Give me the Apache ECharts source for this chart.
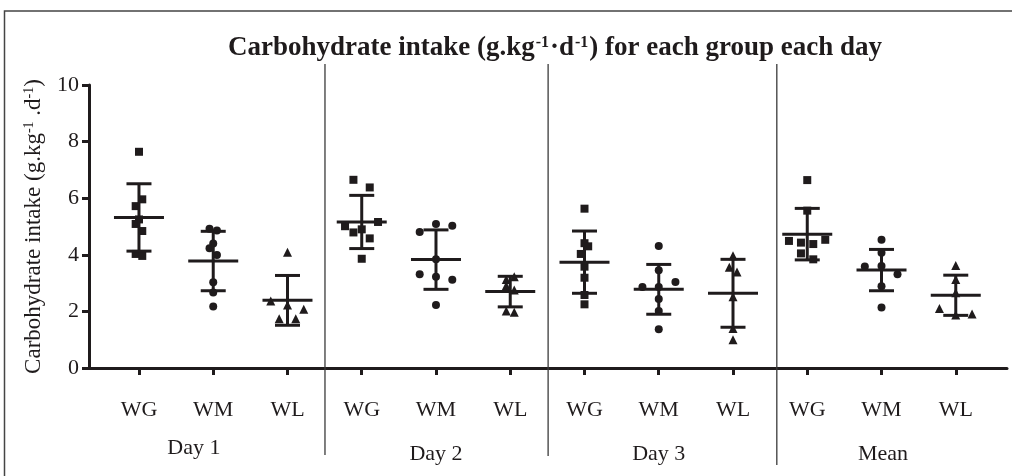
<!DOCTYPE html>
<html><head><meta charset="utf-8">
<script src="https://cdn.jsdelivr.net/npm/echarts@6/dist/echarts.min.js"></script>
<style>html,body{margin:0;padding:0;background:#fff}#c{width:1012px;height:476px}</style>
</head><body><div id="c"></div>
<script>
// ---------- data ----------
const groups = ['WG', 'WM', 'WL'];
const days = ['Day 1', 'Day 2', 'Day 3', 'Mean'];
const yTicks = [0, 2, 4, 6, 8, 10];

// individual values per category (Day1 WG, WM, WL, Day2 WG, ... Mean WL)
const d1WG = [7.64, 5.96, 5.72, 5.25, 5.09, 4.84, 4.03, 3.96];
const d1WM = [4.92, 4.86, 4.40, 4.23, 3.99, 3.03, 2.67, 2.17];
const d1WL = [4.09, 2.37, 2.23, 2.08, 1.74, 1.74];
const d2WG = [6.65, 6.38, 5.16, 5.01, 4.90, 4.79, 4.58, 3.86];
const d2WM = [5.09, 5.03, 4.81, 3.84, 3.31, 3.22, 3.12, 2.23];
const d2WL = [3.22, 3.13, 2.91, 2.76, 2.01, 1.97];
const d3WG = [5.63, 4.41, 4.30, 4.03, 3.58, 3.19, 2.58, 2.25];
const d3WM = [4.31, 3.45, 3.04, 2.86, 2.86, 2.44, 2.01, 1.37];
const d3WL = [3.97, 3.56, 3.39, 2.52, 1.40, 1.00];
const mWG = [6.64, 5.56, 4.53, 4.49, 4.43, 4.38, 4.05, 3.84];
const mWM = [4.53, 4.07, 3.59, 3.60, 3.31, 2.89, 2.14];
const mWL = [3.62, 3.13, 2.66, 2.10, 1.91, 1.87];
const values = [d1WG, d1WM, d1WL, d2WG, d2WM, d2WL, d3WG, d3WM, d3WL, mWG, mWM, mWL];

// mean and SD shown by the error bars
const means = [5.32, 3.78, 2.39, 5.16, 3.83, 2.70, 3.74, 2.78, 2.64, 4.73, 3.46, 2.57];
const sds   = [1.19, 1.05, 0.88, 0.94, 1.05, 0.54, 1.10, 0.88, 1.20, 0.91, 0.73, 0.71];

// ---------- layout / style (not data) ----------
const jitterPx = [
  [0, 3.3, -3.3, 0, -3.3, 3.3, -3.3, 3.3],
  [-3.7, 3.7, 0, -3.7, 3.7, 0, 0, 0],
  [0, -16.7, 0, 16.3, -8.3, 8.3],
  [-8.3, 8, 16.3, -16.7, 0, -8.3, 8, 0],
  [0, 16.3, -16.3, 0, -16.3, 0, 16.3, 0],
  [4, -4, -4, 4, -4, 4],
  [0, 0, 3.7, -3.7, 0, 0, 0, 0],
  [0, 0, 16.7, -16.3, 0, 0, 0, 0],
  [0, -3.7, 4, 0, 0, 0],
  [0, 0, 18, -18.3, -6.3, 6, -6.3, 6],
  [0, 0, -16.7, 0, 16, 0, 0],
  [0, 0, 0, -16.3, 16.3, 0]
];
const dayLabelX = [0.74, 4.0, 7.0, 10.02];
const dayLabelDy = [80, 86, 86, 86];
const dividerX = [2.505, 5.51, 8.59];
const dividerBottom = [87, 88, 97];
const symbols = ['rect', 'circle', 'triangle'];
const symbolSizes = [8, 8, 9];
const INK = '#1f1b1c';
const SERIF = '"Liberation Serif", "Times New Roman", serif';

const catIdx = values.map((_, i) => i);

const scatterSeries = groups.map((g, gi) => ({
  type: 'scatter',
  name: g,
  symbol: symbols[gi],
  symbolSize: symbolSizes[gi],
  itemStyle: { color: INK, opacity: 1 },
  z: 3,
  data: values.flatMap((arr, ci) => ci % 3 !== gi ? [] :
    arr.map((v, k) => ({ value: [ci, v], symbolOffset: [jitterPx[ci][k], 0] })))
}));

const errSeries = {
  type: 'custom',
  coordinateSystem: 'cartesian2d',
  z: 4,
  clip: false,
  data: catIdx.map(i => [i, means[i], sds[i]]),
  renderItem: function (params, api) {
    const x = api.value(0), m = api.value(1), s = api.value(2);
    const c = api.coord([x, m]), t = api.coord([x, m + s]), b = api.coord([x, m - s]);
    const st = { stroke: INK, lineWidth: 3 };
    return { type: 'group', children: [
      { type: 'line', shape: { x1: c[0] - 25, y1: c[1], x2: c[0] + 25, y2: c[1] }, style: st },
      { type: 'line', shape: { x1: t[0], y1: t[1], x2: b[0], y2: b[1] }, style: st },
      { type: 'line', shape: { x1: t[0] - 12.5, y1: t[1], x2: t[0] + 12.5, y2: t[1] }, style: st },
      { type: 'line', shape: { x1: b[0] - 12.5, y1: b[1], x2: b[0] + 12.5, y2: b[1] }, style: st }
    ]};
  }
};

const dividerSeries = {
  type: 'custom',
  coordinateSystem: 'cartesian2d',
  clip: false,
  silent: true,
  data: dividerX.map((x, i) => [x, 0, i]),
  renderItem: function (params, api) {
    const x = api.value(0), i = api.value(2);
    const top = api.coord([x, 10]), bot = api.coord([x, 0]);
    return { type: 'line', shape: { x1: top[0], y1: top[1] - 21, x2: bot[0], y2: bot[1] + dividerBottom[i] },
      style: { stroke: '#3a3a3a', lineWidth: 1.3 } };
  }
};

const dayLabelSeries = {
  type: 'custom',
  coordinateSystem: 'cartesian2d',
  clip: false,
  silent: true,
  data: dayLabelX.map((x, i) => [x, 0, i]),
  renderItem: function (params, api) {
    const i = api.value(2);
    const p = api.coord([api.value(0), 0]);
    return { type: 'text', x: p[0], y: p[1] + dayLabelDy[i],
      style: { text: days[i], align: 'center', verticalAlign: 'middle',
        font: '22px ' + SERIF, fill: INK } };
  }
};

const chart = echarts.init(document.getElementById('c'), null, { renderer: 'canvas' });
chart.setOption({
  backgroundColor: '#fff',
  animation: false,
  title: {
    text: '{b|Carbohydrate intake (g.kg}{s|-1}{b|·d}{s|-1}{b|) for each group each day}',
    left: 550,
    top: 30,
    textAlign: 'center',
    textStyle: {
      rich: {
        b: { fontFamily: SERIF, fontWeight: 'bold', fontSize: 27, color: INK },
        s: { fontFamily: SERIF, fontWeight: 'bold', fontSize: 16, color: INK, verticalAlign: 'top', padding: [0, 1, 0, 1] }
      }
    }
  },
  graphic: [
    { type: 'polyline', shape: { points: [[4.5, 476], [4.5, 11], [1012, 11]] },
      style: { stroke: '#444', lineWidth: 1.5, fill: null }, silent: true }
  ],
  grid: { left: 89, right: 5, top: 85, bottom: 108, containLabel: false, outerBoundsMode: 'none' },
  xAxis: {
    type: 'value',
    min: -0.673,
    max: 11.69,
    splitLine: { show: false },
    axisLine: { show: true, onZero: false, lineStyle: { color: INK, width: 3 } },
    axisTick: { show: true, customValues: catIdx, length: 7, inside: false, lineStyle: { color: INK, width: 3 } },
    axisLabel: { customValues: catIdx, formatter: v => groups[Math.round(v) % 3],
      margin: 31, fontFamily: SERIF, fontSize: 22, color: INK }
  },
  yAxis: {
    type: 'value',
    min: 0, max: 10, interval: 2,
    splitLine: { show: false },
    axisLine: { show: true, onZero: false, lineStyle: { color: INK, width: 3 } },
    axisTick: { show: true, length: 7, lineStyle: { color: INK, width: 3 } },
    axisLabel: { margin: 10, fontFamily: SERIF, fontSize: 22, color: INK,
      formatter: v => yTicks.indexOf(v) >= 0 ? String(v) : '' },
    name: '{n|Carbohydrate intake (g.kg}{s|-1}{n| .d}{s|-1}{n|)}',
    nameLocation: 'middle',
    nameRotate: 90,
    nameGap: 44,
    nameTextStyle: {
      rich: {
        n: { fontFamily: SERIF, fontSize: 23, color: INK },
        s: { fontFamily: SERIF, fontSize: 14, color: INK, verticalAlign: 'top' }
      }
    }
  },
  series: [dividerSeries, errSeries, ...scatterSeries, dayLabelSeries]
});
</script></body></html>
